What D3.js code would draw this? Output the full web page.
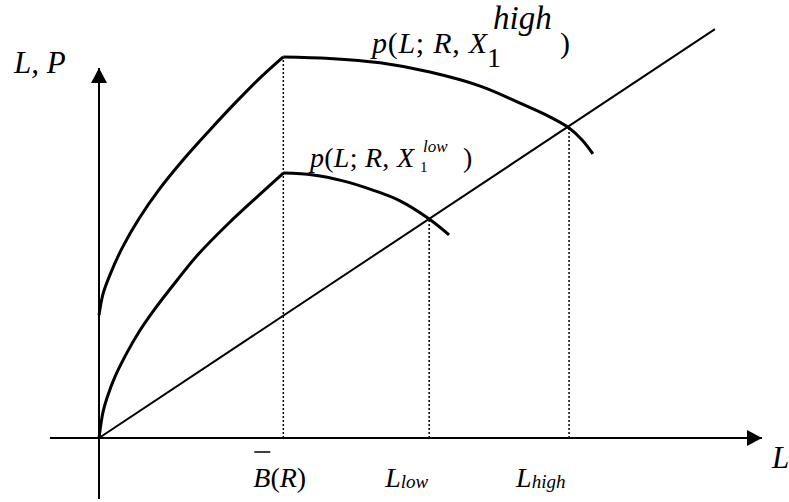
<!DOCTYPE html>
<html>
<head>
<meta charset="utf-8">
<script src="https://cdn.jsdelivr.net/npm/d3@7"></script>
<style>
  body { margin: 0; background: #fff; }
  svg { display: block; }
  .it { font-style: italic; }
</style>
</head>
<body>
<svg id="chart" width="789" height="502"></svg>
<script>
// curve points (arbitrary L, P units)
var lowRise  = [[0, 0], [0.06, 0.70], [0.12, 1.08], [0.24, 1.65], [0.42, 2.30], [0.60, 2.86], [0.81, 3.41], [1.18, 4.27], [1.49, 4.95], [1.96, 5.81], [2.43, 6.59], [2.78, 7.16]];
var lowFall  = [[2.78, 7.16], [3.23, 7.11], [3.68, 6.95], [4.13, 6.70], [4.54, 6.41], [4.98, 5.92], [5.28, 5.49]];
var highRise = [[0, 3.32], [0.06, 3.89], [0.17, 4.43], [0.35, 5.14], [0.60, 5.92], [0.90, 6.70], [1.28, 7.54], [1.66, 8.30], [2.04, 9.03], [2.41, 9.70], [2.78, 10.30]];
var highFall = [[2.78, 10.30], [3.48, 10.26], [4.24, 10.14], [4.99, 9.89], [5.75, 9.51], [6.35, 9.05], [6.80, 8.68], [7.09, 8.38], [7.29, 8.05], [7.45, 7.68]];
var diagonal = [[0, 0], [9.29, 11.05]];

// marked L values and where the dotted guides stop
var guideX   = [2.78, 4.98, 7.09];
var guideTop = [10.30, 5.92, 8.38];

var svg = d3.select('#chart')
    .attr('font-family', '"Times New Roman", "Liberation Serif", "DejaVu Serif", serif');
var x = d3.scaleLinear().domain([0, 10]).range([99, 762]);
var y = d3.scaleLinear().domain([0, 10]).range([438, 68]);

var line = d3.line()
    .x(function (d) { return x(d[0]); })
    .y(function (d) { return y(d[1]); })
    .curve(d3.curveCatmullRom.alpha(0.5));

// arrow heads
svg.append('defs').append('marker')
    .attr('id', 'arrow')
    .attr('viewBox', '0 0 15 16')
    .attr('refX', 15).attr('refY', 8)
    .attr('markerWidth', 15).attr('markerHeight', 16)
    .attr('markerUnits', 'userSpaceOnUse')
    .attr('orient', 'auto')
    .append('path').attr('d', 'M0,0 L15,8 L0,16 Z').attr('fill', '#000');

// axes
svg.append('line')
    .attr('x1', x(-0.74)).attr('y1', y(0)).attr('x2', x(10)).attr('y2', y(0))
    .attr('stroke', '#000').attr('stroke-width', 2).attr('marker-end', 'url(#arrow)');
svg.append('line')
    .attr('x1', x(0)).attr('y1', y(-1.65)).attr('x2', x(0)).attr('y2', y(10))
    .attr('stroke', '#000').attr('stroke-width', 2).attr('marker-end', 'url(#arrow)');

// dotted guides
svg.selectAll('.guide')
    .data(guideX)
    .enter().append('line')
    .attr('class', 'guide')
    .attr('x1', function (d) { return x(d); })
    .attr('x2', function (d) { return x(d); })
    .attr('y1', y(0))
    .attr('y2', function (d, i) { return y(guideTop[i]); })
    .attr('stroke', '#000').attr('stroke-width', 1.5).attr('stroke-dasharray', '2,2');

// diagonal
svg.append('path').attr('d', line(diagonal))
    .attr('fill', 'none').attr('stroke', '#000').attr('stroke-width', 2);

// the two p curves, each in two pieces so the kink stays sharp
[lowRise, lowFall, highRise, highFall].forEach(function (pts) {
    svg.append('path').attr('d', line(pts))
        .attr('fill', 'none').attr('stroke', '#000').attr('stroke-width', 3);
});

// axis names
svg.append('text').attr('class', 'it').attr('x', 14).attr('y', 73).attr('font-size', 31).text('L, P');
svg.append('text').attr('class', 'it').attr('x', 772).attr('y', 468).attr('font-size', 31).text('L');

// bottom labels
var bx = x(guideX[0]) - 30;
var b = svg.append('text').attr('x', bx).attr('y', 487).attr('font-size', 28);
b.append('tspan').attr('class', 'it').text('B');
b.append('tspan').text('(');
b.append('tspan').attr('class', 'it').text('R');
b.append('tspan').text(')');
svg.append('line').attr('x1', bx + 1).attr('x2', bx + 17).attr('y1', 452).attr('y2', 452)
    .attr('stroke', '#000').attr('stroke-width', 1.5);

var lo = svg.append('text').attr('class', 'it').attr('x', x(guideX[1]) - 44).attr('y', 487).attr('font-size', 28);
lo.append('tspan').text('L');
lo.append('tspan').attr('font-size', 19).attr('dy', 1).text('low');

var hi = svg.append('text').attr('class', 'it').attr('x', x(guideX[2]) - 53).attr('y', 487).attr('font-size', 28);
hi.append('tspan').text('L');
hi.append('tspan').attr('font-size', 19).attr('dy', 1).text('high');

// curve labels: p(L; R, X) with subscript 1 and superscript high/low
function curveLabel(x0, base, size, sub, sup, o) {
    var t = svg.append('text').attr('x', x0).attr('y', base).attr('font-size', size);
    t.append('tspan').attr('class', 'it').text('p');
    t.append('tspan').text('(');
    t.append('tspan').attr('class', 'it').text('L');
    t.append('tspan').text('; ');
    t.append('tspan').attr('class', 'it').text('R');
    t.append('tspan').text(', ');
    t.append('tspan').attr('class', 'it').text('X');
    t.attr('textLength', o.xLen).attr('lengthAdjust', 'spacing');
    svg.append('text').attr('x', x0 + o.subX).attr('y', base + o.subDy).attr('font-size', o.subSize).text(sub);
    svg.append('text').attr('class', 'it').attr('x', x0 + o.supX).attr('y', base + o.supDy).attr('font-size', o.supSize).text(sup);
    svg.append('text').attr('x', x0 + o.closeX).attr('y', base).attr('font-size', size).text(')');
}
curveLabel(372, 53, 30, '1', 'high', { xLen: 115, subX: 115, subDy: 14, subSize: 28, supX: 121, supDy: -24, supSize: 33, closeX: 188 });
curveLabel(310, 167, 28, '1', 'low', { xLen: 104, subX: 110, subDy: 5, subSize: 15, supX: 113, supDy: -15, supSize: 17, closeX: 153 });
</script>
</body>
</html>
